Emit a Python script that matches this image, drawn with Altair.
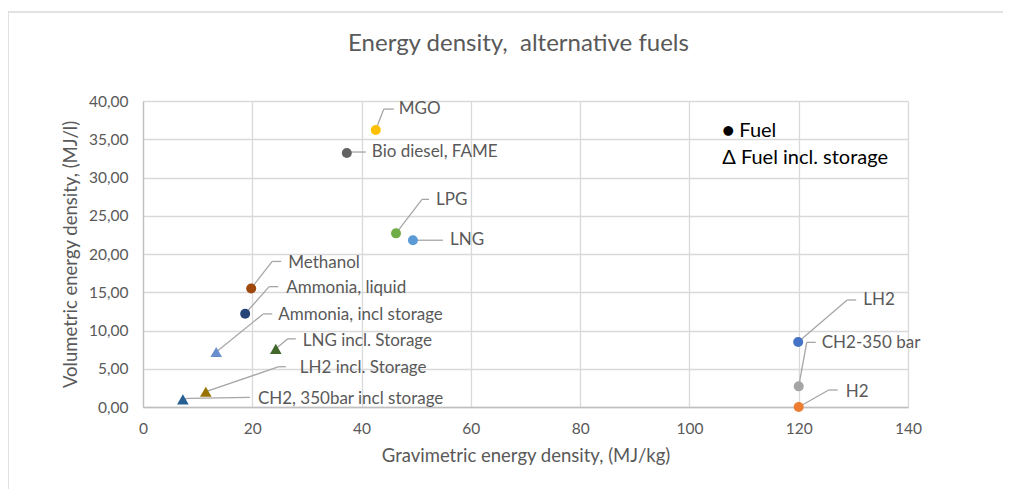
import altair as alt
import pandas as pd

# ---- data ----
names = ["MGO", "Bio diesel, FAME", "LPG", "LNG", "Methanol", "Ammonia, liquid",
         "Ammonia, incl storage", "LNG incl. Storage", "LH2 incl. Storage",
         "CH2, 350bar incl storage", "LH2", "CH2-350 bar", "H2"]
grav = [42.6, 37.3, 46.3, 49.4, 19.8, 18.7, 13.4, 24.3, 11.5, 7.3, 119.9, 120.0, 120.0]
vol = [36.2, 33.2, 22.7, 21.8, 15.5, 12.2, 7.2, 7.6, 2.0, 1.0, 8.5, 2.7, 0.0]
kind = ["Fuel"] * 6 + ["Fuel incl. storage"] * 4 + ["Fuel"] * 3
colors = ["#FFC000", "#636363", "#70AD47", "#5B9BD5", "#9E480E", "#264478",
          "#698ED0", "#43682B", "#997300", "#255E91", "#4472C4", "#A5A5A5", "#ED7D31"]

legend_lines = ["\u25cf Fuel", "\u0394 Fuel incl. storage"]
x_ticks = [0, 20, 40, 60, 80, 100, 120, 140]
y_ticks = [0, 5, 10, 15, 20, 25, 30, 35, 40]

# ---- layout (label placement, pixels relative to the marker) ----
W, H = 765, 306
XMAX, YMAX = 140, 40
elbow = [(8, -21), (5, -1), (26, -34), (10, 0), (21, -27), (24, -27), (47, -38),
         (12, -10), (73, -25), (5, -1), (49, -42), (8, -44), (30, -17)]
end = [(18, -21), (19, -1), (33, -34), (30, 0), (30, -27), (33, -27), (56, -38),
       (20, -10), (80, -25), (67, -2), (58, -42), (17, -44), (39, -17)]
textpos = [(23, -21), (25, -1), (40, -33), (37, 0), (37, -25), (41, -26), (62, -37),
           (27, -8), (94, -24), (75, 0), (65, -42), (23, -43), (47, -15)]

sx, sy = W / XMAX, H / YMAX

pts = pd.DataFrame({"name": names, "grav": grav, "vol": vol, "kind": kind})

seg_rows = []
lab_rows = []
for i, n in enumerate(names):
    x0, y0 = grav[i], vol[i]
    ex, ey = x0 + elbow[i][0] / sx, y0 - elbow[i][1] / sy
    hx, hy = x0 + end[i][0] / sx, y0 - end[i][1] / sy
    seg_rows.append({"x": x0, "y": y0, "x2": ex, "y2": ey})
    seg_rows.append({"x": ex, "y": ey, "x2": hx, "y2": hy})
    lab_rows.append({"name": n, "x": x0 + textpos[i][0] / sx, "y": y0 - textpos[i][1] / sy})
segs = pd.DataFrame(seg_rows)
labs = pd.DataFrame(lab_rows)

leg = pd.DataFrame({"t": legend_lines, "x": [106.0, 106.0], "y": [36.1, 32.6]})

FONT = "Lato"
GREY = "#595959"

xs = alt.Scale(domain=[0, XMAX], nice=False, zero=True)
ys = alt.Scale(domain=[0, YMAX], nice=False, zero=True)

xaxis = alt.Axis(values=x_ticks, title="Gravimetric energy density, (MJ/kg)",
                 labelPadding=14, titlePadding=10, labelFlush=False)
yaxis = alt.Axis(values=y_ticks, title="Volumetric energy density, (MJ/l)",
                 labelExpr="replace(format(datum.value, '.2f'), '.', ',')",
                 labelPadding=15, titlePadding=8, labelFlush=False)

frame = alt.Chart(pd.DataFrame({"a": [0]})).mark_rect(
    fill=None, stroke="#D9D9D9", strokeWidth=1.5, clip=False
).encode(x=alt.value(-135), x2=alt.value(1200), y=alt.value(-89), y2=alt.value(700))

lines = alt.Chart(segs).mark_rule(color="#A6A6A6", strokeWidth=1.3).encode(
    x=alt.X("x:Q", scale=xs, axis=xaxis),
    y=alt.Y("y:Q", scale=ys, axis=yaxis),
    x2="x2:Q", y2="y2:Q")

points = alt.Chart(pts).mark_point(filled=True, opacity=1).encode(
    x=alt.X("grav:Q", scale=xs, axis=xaxis),
    y=alt.Y("vol:Q", scale=ys, axis=yaxis),
    color=alt.Color("name:N", scale=alt.Scale(domain=names, range=colors), legend=None),
    shape=alt.Shape("kind:N", scale=alt.Scale(domain=["Fuel", "Fuel incl. storage"],
                                              range=["circle", "triangle-up"]), legend=None),
    size=alt.Size("kind:N", scale=alt.Scale(domain=["Fuel", "Fuel incl. storage"],
                                            range=[100, 135]), legend=None))

labels = alt.Chart(labs).mark_text(align="left", baseline="middle", font=FONT,
                                   fontSize=17, color=GREY).encode(
    x=alt.X("x:Q", scale=xs, axis=xaxis), y=alt.Y("y:Q", scale=ys, axis=yaxis), text="name:N")

legend = alt.Chart(leg).mark_text(align="left", baseline="middle", font=FONT,
                                  fontSize=20, color="#000000").encode(
    x=alt.X("x:Q", scale=xs, axis=xaxis), y=alt.Y("y:Q", scale=ys, axis=yaxis), text="t:N")

chart = alt.layer(frame, lines, points, labels, legend).properties(
    width=W, height=H,
    title=alt.TitleParams("Energy density,\u00a0 alternative fuels", font=FONT, fontSize=24,
                          fontWeight="normal", color=GREY, offset=0, dy=45, dx=-7,
                          anchor="middle"),
    autosize=alt.AutoSizeParams(type="none"),
    padding={"left": 135, "top": 93, "right": 95, "bottom": 82},
).configure_view(stroke=None).configure_axis(
    grid=True, gridColor="#D9D9D9", gridWidth=1.3, domainColor="#BFBFBF", domainWidth=1.3,
    ticks=False, labelFont=FONT, labelFontSize=15.5, labelColor=GREY, labelOverlap=False,
    titleFont=FONT, titleFontSize=18.5, titleFontWeight="normal", titleColor=GREY
)

chart.save("out.html", embed_options={"renderer": "svg", "actions": False})
